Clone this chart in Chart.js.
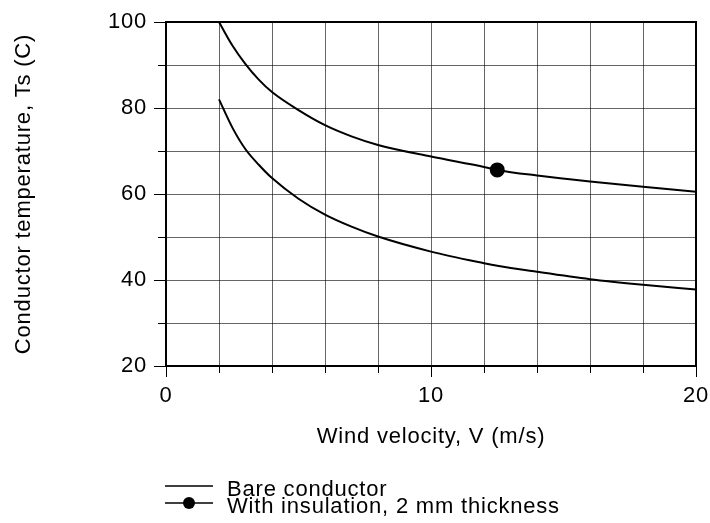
<!DOCTYPE html>
<html>
<head>
<meta charset="utf-8">
<script src="https://cdn.jsdelivr.net/npm/chart.js@4/dist/chart.umd.min.js"></script>
<style>
  html, body { margin: 0; padding: 0; background: #fff; }
  #wrap { width: 710px; height: 523px; }
</style>
</head>
<body>
<div id="wrap"><canvas id="c" width="710" height="523"></canvas></div>
<script>
// ---- data ----
const windVelocity   = [2, 2.5, 3, 3.5, 4, 5, 6, 7, 8, 10, 12, 12.5, 14, 16, 18, 20];
const bareTemp       = [82, 75.5, 70.4, 66.8, 63.7, 58.9, 55.2, 52.4, 50.1, 46.6, 43.9, 43.3, 41.9, 40.2, 38.9, 37.8];
const insulatedTemp  = [100, 94.6, 90.2, 86.6, 83.7, 79.5, 76.0, 73.4, 71.4, 68.7, 66.3, 65.6, 64.3, 62.9, 61.7, 60.5];
const markerVelocity = [12.5];
const xTickLabels = [0, 10, 20];
const yTickLabels = [20, 40, 60, 80, 100];
const seriesNames = ['Bare conductor', 'With insulation, 2 mm thickness'];
const xTitle = 'Wind velocity, V (m/s)';
const yTitle = 'Conductor temperature, Ts (C)';

const FONT = { family: '"Liberation Sans", Arial, Helvetica, sans-serif', size: 22, lineHeight: 1.2 };
const LETTER_SPACING = '0.8px';
const toPts = (xs, ys) => xs.map((x, i) => ({ x, y: ys[i] }));

const spacingPlugin = {
  id: 'spacing',
  beforeLayout(chart) { chart.ctx.letterSpacing = LETTER_SPACING; },
  beforeDraw(chart) { chart.ctx.letterSpacing = LETTER_SPACING; }
};

const framePlugin = {
  id: 'frame',
  afterDraw(chart) {
    const { ctx, chartArea: a, scales: { x, y } } = chart;
    ctx.save();
    ctx.strokeStyle = '#000';
    ctx.lineWidth = 1;
    ctx.beginPath();
    yTickLabels.forEach(v => {
      const py = Math.round(y.getPixelForValue(v)) + 0.5;
      ctx.moveTo(a.left - 12, py); ctx.lineTo(a.left, py);
    });
    xTickLabels.forEach(v => {
      const px = Math.round(x.getPixelForValue(v)) + 0.5;
      ctx.moveTo(px, a.bottom); ctx.lineTo(px, a.bottom + 11);
    });
    ctx.stroke();
    ctx.lineWidth = 2;
    ctx.strokeRect(a.left, a.top, a.right - a.left, a.bottom - a.top);

    // legend
    const lx = a.left - 1, rowH = 17, ly0 = a.bottom + 120;
    ctx.font = `${FONT.size}px ${FONT.family}`;
    ctx.letterSpacing = LETTER_SPACING;
    ctx.fillStyle = '#000';
    ctx.textBaseline = 'alphabetic';
    ctx.textAlign = 'left';
    seriesNames.forEach((name, i) => {
      const ly = ly0 + i * rowH;
      ctx.lineWidth = 1.5;
      ctx.beginPath(); ctx.moveTo(lx, ly); ctx.lineTo(lx + 48, ly); ctx.stroke();
      if (i === 1) {
        ctx.beginPath(); ctx.arc(lx + 24, ly, 6, 0, Math.PI * 2); ctx.fill();
      }
      ctx.fillText(name, lx + 62, ly + 9.5);
    });
    ctx.restore();
  }
};

new Chart(document.getElementById('c'), {
  type: 'line',
  data: {
    datasets: [
      {
        label: seriesNames[0],
        data: toPts(windVelocity, bareTemp),
        borderColor: '#000', borderWidth: 2,
        pointRadius: 0, fill: false,
        cubicInterpolationMode: 'monotone'
      },
      {
        label: seriesNames[1],
        data: toPts(windVelocity, insulatedTemp),
        borderColor: '#000', borderWidth: 2,
        backgroundColor: '#000',
        pointRadius: ctx => markerVelocity.includes(ctx.raw && ctx.raw.x) ? 6.5 : 0,
        pointBackgroundColor: '#000', pointBorderColor: '#000',
        fill: false,
        cubicInterpolationMode: 'monotone'
      }
    ]
  },
  options: {
    responsive: false,
    animation: false,
    events: [],
    layout: { padding: { left: 0, top: 22, right: 14, bottom: 0 } },
    plugins: { legend: { display: false }, tooltip: { enabled: false } },
    scales: {
      x: {
        type: 'linear', min: 0, max: 20,
        ticks: {
          stepSize: 2, autoSkip: false, maxRotation: 0, color: '#000', padding: 10,
          font: FONT,
          callback: v => xTickLabels.includes(v) ? String(v) : ''
        },
        grid: { color: 'rgba(0,0,0,0.6)', lineWidth: 1, tickLength: 7, tickColor: '#000' },
        border: { display: true, color: '#000', width: 2 },
        title: { display: true, text: xTitle, color: '#000', font: FONT, padding: { top: 0, bottom: 73 } },
        afterFit: s => { s.height = 157; s.paddingLeft = 0; s.paddingRight = 0; }
      },
      y: {
        type: 'linear', min: 20, max: 100,
        ticks: {
          stepSize: 10, autoSkip: false, color: '#000', padding: 11,
          font: FONT,
          callback: v => yTickLabels.includes(v) ? String(v) : ''
        },
        grid: { color: 'rgba(0,0,0,0.6)', lineWidth: 1, tickLength: 8, tickColor: '#000' },
        border: { display: true, color: '#000', width: 2 },
        title: { display: true, text: yTitle, color: '#000', font: FONT, padding: { top: 11, bottom: 0 } },
        afterFit: s => { s.width = 166; s.paddingTop = 0; s.paddingBottom = 0; }
      }
    }
  },
  plugins: [spacingPlugin, framePlugin]
});
</script>
</body>
</html>
